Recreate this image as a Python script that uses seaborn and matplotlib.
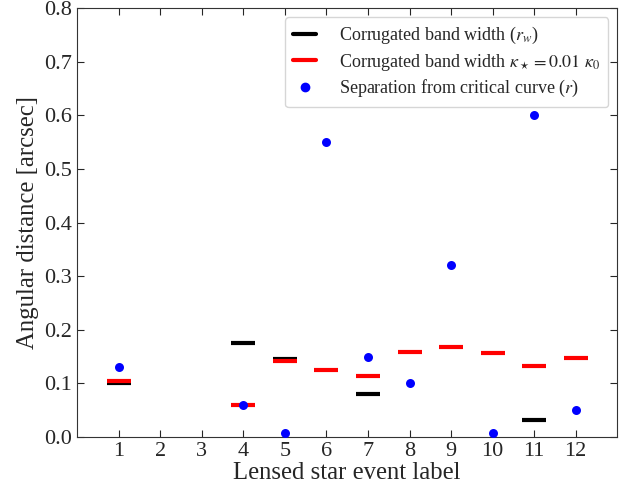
import numpy as np
import pandas as pd
import seaborn as sns
import matplotlib.pyplot as plt
from matplotlib.lines import Line2D

# values
events = [1, 2, 3, 4, 5, 6, 7, 8, 9, 10, 11, 12]
band_width = [0.100, np.nan, np.nan, 0.175, 0.145, np.nan, 0.080, np.nan, np.nan, np.nan, 0.032, np.nan]
band_width_kappa = [0.104, np.nan, np.nan, 0.060, 0.141, 0.125, 0.113, 0.159, 0.167, 0.157, 0.132, 0.147]
separation = [0.13, np.nan, np.nan, 0.06, 0.008, 0.55, 0.15, 0.10, 0.32, 0.007, 0.60, 0.05]

df = pd.DataFrame({'event': events, 'rw': band_width, 'rk': band_width_kappa, 'r': separation})

sns.set_style('ticks')
plt.rcParams['font.family'] = ['Liberation Serif', 'DejaVu Serif']
plt.rcParams['mathtext.fontset'] = 'stix'

fig = plt.figure(figsize=(6.33, 4.95), dpi=100)
ax = fig.add_axes([0.122, 0.117, 0.853, 0.867])

sns.scatterplot(data=df, x='event', y='rw', marker='_', s=300, linewidth=3,
                color='black', ax=ax, zorder=2)
sns.scatterplot(data=df, x='event', y='rk', marker='_', s=300, linewidth=3,
                color='red', ax=ax, zorder=3)
sns.scatterplot(data=df, x='event', y='r', marker='o', s=42, linewidth=0,
                color='blue', ax=ax, zorder=4)

ax.set_xlim(0, 13)
ax.set_ylim(0, 0.8)
ax.set_xticks(events)
ax.set_yticks(np.arange(0, 0.81, 0.1))
ax.set_yticklabels(['%.1f' % v for v in np.arange(0, 0.81, 0.1)])
ax.tick_params(direction='in', top=True, right=True, labelsize=16, length=5, width=0.8)
for s in ax.spines.values():
    s.set_linewidth(0.8)
    s.set_color('#333333')
ax.set_xlabel('Lensed star event label', fontsize=17.8, labelpad=1)
ax.set_ylabel('Angular distance [arcsec]', fontsize=17.8, labelpad=4)

handles = [
    Line2D([], [], color='black', lw=3),
    Line2D([], [], color='red', lw=3),
    Line2D([], [], color='blue', marker='o', ls='none', markersize=6),
]
labels = [
    r'Corrugated band width ($r_w$)',
    r'Corrugated band width $\kappa_\star = 0.01\ \kappa_0$',
    r'Separation from critical curve ($r$)',
]
ax.legend(handles, labels, loc='upper right', fontsize=13, handlelength=1.3,
          handletextpad=1.25, borderpad=0.45, labelspacing=0.3, framealpha=0.8)

fig.savefig('out.png', dpi=100)
